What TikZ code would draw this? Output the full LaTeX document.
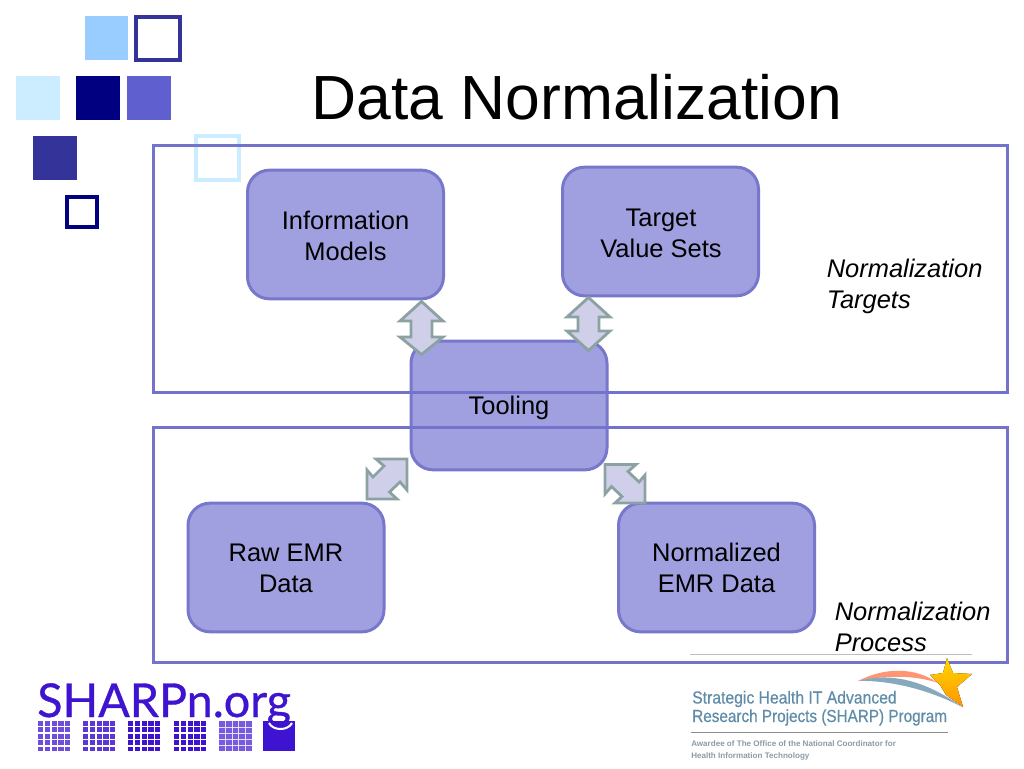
\documentclass[tikz,border=0pt]{standalone}
\usepackage{fontspec}
\setmainfont{Liberation Sans}
\newfontfamily\logofont[FakeBold=0.7]{Lato}
\newfontfamily\sharpfont[FakeBold=0.5]{Liberation Sans}
\usetikzlibrary{calc}
\definecolor{boxfill}{HTML}{A0A0E0}
\definecolor{boxline}{HTML}{7777CC}
\definecolor{framec}{HTML}{7373CC}
\definecolor{arrfill}{HTML}{CFCFEA}
\definecolor{arrline}{HTML}{8CA2A2}
\definecolor{sqa}{HTML}{99CCFF}
\definecolor{sqb}{HTML}{333399}
\definecolor{sqc}{HTML}{CCECFF}
\definecolor{sqd}{HTML}{000080}
\definecolor{sqe}{HTML}{5F5FCF}
\definecolor{sharp}{HTML}{3F14D0}
\definecolor{sharpb}{HTML}{5F8CA8}
\definecolor{grayb}{HTML}{8C9CA4}
\tikzset{
  x=0.75pt,y=-0.75pt,
  boxnode/.style={draw=boxline,fill=boxfill,line width=2.25pt,rounded corners=16.5pt,minimum width=147pt,minimum height=96.5pt,inner sep=0pt},
  boxtext/.style={inner sep=0pt,align=center,font=\fontsize{19.1}{23.2}\selectfont,text=black},
  frameline/.style={draw=framec,line width=2.25pt},
  dblarrow/.style={draw=arrline,fill=arrfill,line width=2.1pt,miter limit=10},
  lbl/.style={font=\fontsize{19.1}{23.2}\itshape\selectfont,align=left,anchor=north west,inner sep=0pt},
  logotext/.style={anchor=base west,inner sep=0pt,font=\logofont\fontsize{35}{35}\selectfont},
  sharptext/.style={anchor=base west,inner sep=0pt,text=sharpb,font=\sharpfont\fontsize{13.1}{13.1}\selectfont},
  awardtext/.style={anchor=base west,inner sep=0pt,text=grayb,font=\bfseries\fontsize{6.05}{6.05}\selectfont},
}
\newcommand{\sqgrid}[3]{% x, y, cell opacity
  \foreach \i in {0,...,4}{\foreach \j in {0,...,4}{
    \fill[sharp,opacity=#3] ($(#1,#2)+(\i*6.8,\j*6.4)$) rectangle ++(5.2,4.8);}}}
\begin{document}
\begin{tikzpicture}
\useasboundingbox (0,0) rectangle (1024,768);
\fill[white] (0,0) rectangle (1024,768);
% decorative squares
\fill[sqa] (85,16) rectangle (128,60);
\draw[sqb,line width=3pt] (136,17) rectangle (179.5,60);
\fill[sqc] (16,76) rectangle (60,120);
\fill[sqd] (76,76) rectangle (120,120);
\fill[sqe] (127,76) rectangle (171,120);
\fill[sqb] (33,136) rectangle (77,180);
\draw[sqd,line width=3pt] (67,197) rectangle (96.5,226.5);
\draw[sqc,line width=3pt] (196,136) rectangle (239,179.5);
% title
\node[anchor=base,inner sep=0pt,font=\fontsize{46.8}{46.8}\selectfont] (title) at (577,119) {Data Normalization};
% boxes
\node[boxnode] (tool) at (509,405.5) {};
\draw[frameline] (153.5,145.5) rectangle (1007,392);
\draw[frameline] (153.5,427) rectangle (1007,662);
\node[boxtext] (toollabel) at (509,408) {Tooling};
\node[boxnode] (info) at (345.5,234.5) {};
\node[boxtext] (infot) at (345.5,235.5) {Information\\Models};
\node[boxnode] (target) at (660.5,231.5) {};
\node[boxtext] (targett) at (661,233) {Target\\Value Sets};
\node[boxnode] (raw) at (286,567.5) {};
\node[boxtext] (rawt) at (286,568.5) {Raw EMR\\Data};
\node[boxnode] (norm) at (716.5,567.5) {};
\node[boxtext] (normt) at (716.5,568) {Normalized\\EMR Data};
% labels
\node[lbl] (lt) at (826.5,259) {Normalization\\Targets};
\node[lbl] (lp) at (834.5,602) {Normalization\\Process};
% arrows
\draw[dblarrow] (421.5,301.5) -- (443,321) -- (432,321) -- (432,337) -- (443,337) -- (421.5,354.5) -- (400,337) -- (411,337) -- (411,321) -- (400,321) -- cycle;
\draw[dblarrow] (588.5,297.5) -- (610,317) -- (599,317) -- (599,331) -- (610,331) -- (588.5,350.5) -- (567,331) -- (578,331) -- (578,317) -- (567,317) -- cycle;
\draw[dblarrow] (407,459) -- (376,459) -- (384,466) -- (373,477) -- (367,470) -- (367,499) -- (397,499) -- (389.5,492) -- (400,482) -- (407,490) -- cycle;
\draw[dblarrow] (605,464.5) -- (636,464.5) -- (628,471.5) -- (639,482) -- (645,475) -- (645,503) -- (615,503) -- (622,496.5) -- (611.5,486.5) -- (605,494) -- cycle;
% SHARPn logo
\node[logotext,text=sharp] (sharpn) at (37,717) {SHARPn.org};
\sqgrid{38}{721}{0.75}
\sqgrid{83}{721}{0.85}
\sqgrid{128}{721}{1}
\sqgrid{174}{721}{1}
\fill[sharp,opacity=.7] (219,721) rectangle (252,751);
\foreach \i in {1,...,4}{\draw[white,line width=.5pt,opacity=.8] (219+\i*6.6,721) -- (219+\i*6.6,751) (219,721+\i*6) -- (252,721+\i*6);}
\fill[sharp] (263,721) rectangle (295,751);
\draw[white,line width=1.5pt] (269,723) .. controls (273,731) and (288,731) .. (292,723);
% SHARP logo
\draw[black!25,line width=.5pt] (690,654.5) -- (972,654.5);
\fill[top color=yellow!70!orange,bottom color=orange!85!yellow] (947,658) -- (953,673) -- (972,674) -- (957,687) -- (963,707) -- (946,695) -- (940,685) -- (930,675) -- (943,673) -- cycle;
\fill[red!50!orange!55!white] (858,681) .. controls (885,667) and (915,667) .. (938,683) .. controls (915,675) and (885,675) .. (858,681) -- cycle;
\fill[sharpb!75!white] (858,681) .. controls (890,672) and (925,680) .. (962,707) .. controls (930,690) and (890,680) .. (858,681) -- cycle;
\node[sharptext,xscale=.9] (s1) at (692,703.5) {Strategic Health IT Advanced};
\node[sharptext,xscale=.875] (s2) at (692,722) {Research Projects (SHARP) Program};
\draw[black!45,line width=.6pt] (691,732) -- (948,732);
\node[awardtext] (s3) at (691,746) {Awardee of The Office of the National Coordinator for};
\node[awardtext] (s4) at (691,758) {Health Information Technology};
\end{tikzpicture}
\end{document}
